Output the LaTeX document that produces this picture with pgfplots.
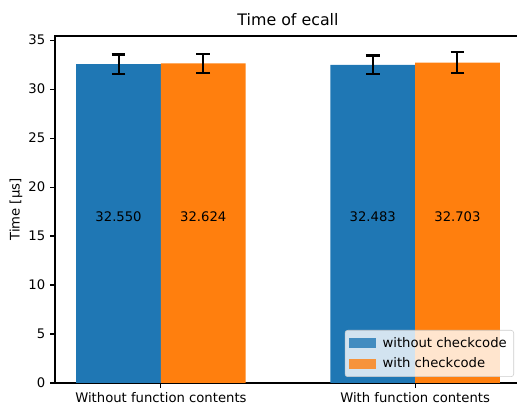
\documentclass[border=0pt]{standalone}
\usepackage{fontspec}
\setmainfont{DejaVu Sans}
\usepackage{pgfplots}
\pgfplotsset{compat=1.18}
\definecolor{mplblue}{HTML}{1F77B4}
\definecolor{mplorange}{HTML}{FF7F0E}
\begin{document}
\begin{tikzpicture}
\useasboundingbox (0,0) rectangle (372.24pt,291.6pt);
\begin{axis}[
  at={(39.6pt,15.84pt)}, anchor=south west,
  scale only axis, width=335.52pt, height=249.84pt,
  xmin=-0.4167, xmax=1.4167, ymin=0, ymax=35.42,
  xtick={0,1}, xticklabels={Without function contents, With function contents},
  ytick={0,5,...,35},
  tick align=outside, tick pos=left, major tick length=3.5pt,
  every tick/.style={black, line width=0.8pt},
  axis line style={line width=0.8pt},
  ticklabel style={font=\fontsize{9.5}{11}\selectfont},
  /pgf/number format/assume math mode=true,
  ylabel={Time [µs]},
  ylabel style={font=\fontsize{9.5}{11}\selectfont, at={(axis description cs:-0.0838,0.5)}, anchor=center},
  title={Time of ecall},
  title style={font=\fontsize{11.4}{13}\selectfont, at={(axis description cs:0.5,1)}, anchor=south, inner sep=0pt, yshift=1.5pt},
  legend style={at={(0.985,0.0173)}, anchor=south east, draw=black!20, fill=white, fill opacity=0.8, text opacity=1, rounded corners=2pt, font=\fontsize{9.5}{11}\selectfont, inner xsep=3pt, inner ysep=3pt, row sep=2pt,
    /tikz/every odd column/.append style={column sep=3pt}},
  legend cell align=left,
  legend image code/.code={\fill[#1, sharp corners] (0pt,-3.5pt) rectangle (19pt,3.5pt);},
]
\addplot[ybar, bar width=0.3333, bar shift=0pt, fill=mplblue, draw=none,
  error bars/.cd, y dir=both, y explicit,
  error bar style={line width=1.5pt, black},
  error mark options={rotate=90, line width=1.5pt, black, mark size=5pt}]
  coordinates {(-0.16667,32.550) +- (0,0.98) (0.83333,32.483) +- (0,0.95)};
\addlegendentry{without checkcode}
\addplot[ybar, bar width=0.3333, bar shift=0pt, fill=mplorange, draw=none,
  error bars/.cd, y dir=both, y explicit,
  error bar style={line width=1.5pt, black},
  error mark options={rotate=90, line width=1.5pt, black, mark size=5pt}]
  coordinates {(0.16667,32.624) +- (0,0.95) (1.16667,32.703) +- (0,1.05)};
\addlegendentry{with checkcode}
\addplot[only marks, mark=none, forget plot, nodes near coords, point meta=explicit symbolic,
  nodes near coords style={anchor=center, font=\fontsize{9.5}{11}\selectfont, text=black}]
  coordinates {(-0.16667,17.0) [32.550] (0.16667,17.0) [32.624] (0.83333,17.0) [32.483] (1.16667,17.0) [32.703]};
\end{axis}
\end{tikzpicture}
\end{document}
